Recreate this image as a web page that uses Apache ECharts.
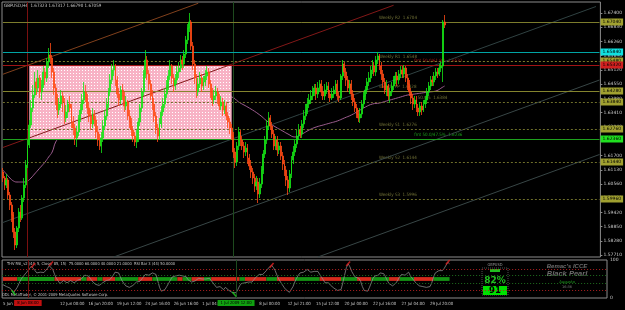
<!DOCTYPE html>
<html><head><meta charset="utf-8">
<script src="https://cdn.jsdelivr.net/npm/echarts@6/dist/echarts.min.js"></script>
<style>html,body{margin:0;padding:0;background:#000}#c{width:625px;height:310px}</style>
</head><body><div id="c"></div>
<script>
// ---------- DATA ----------
const opens = [1.6104,1.6080,1.6052,1.6072,1.6012,1.5972,1.5932,1.5864,1.5812,1.5880,
1.5944,1.5920,1.6000,1.6052,1.6132,1.6212,1.6292,1.6360,1.6412,1.6464,
1.6440,1.6480,1.6424,1.6452,1.6504,1.6480,1.6544,1.6572,1.6560,1.6504,
1.6440,1.6400,1.6352,1.6376,1.6408,1.6384,1.6320,1.6344,1.6376,1.6360,
1.6304,1.6280,1.6240,1.6264,1.6320,1.6352,1.6392,1.6424,1.6400,1.6360,
1.6328,1.6296,1.6336,1.6312,1.6264,1.6232,1.6208,1.6240,1.6288,1.6328,
1.6376,1.6424,1.6472,1.6512,1.6528,1.6472,1.6416,1.6392,1.6432,1.6408,
1.6368,1.6384,1.6328,1.6304,1.6272,1.6248,1.6224,1.6240,1.6304,1.6360,
1.6424,1.6496,1.6552,1.6496,1.6456,1.6408,1.6376,1.6328,1.6280,1.6248,
1.6296,1.6344,1.6376,1.6416,1.6448,1.6488,1.6528,1.6480,1.6448,1.6472,
1.6504,1.6520,1.6552,1.6536,1.6576,1.6632,1.6680,1.6704,1.6608,1.6536,
1.6480,1.6424,1.6456,1.6480,1.6448,1.6464,1.6488,1.6504,1.6456,1.6424,
1.6392,1.6408,1.6424,1.6400,1.6368,1.6384,1.6352,1.6368,1.6328,1.6304,
1.6280,1.6248,1.6184,1.6144,1.6208,1.6264,1.6232,1.6208,1.6184,1.6200,
1.6160,1.6128,1.6104,1.6080,1.6048,1.6064,1.6016,1.6056,1.6112,1.6176,
1.6232,1.6288,1.6320,1.6288,1.6256,1.6208,1.6232,1.6192,1.6208,1.6168,
1.6136,1.6112,1.6072,1.6040,1.6096,1.6152,1.6184,1.6216,1.6248,1.6272,
1.6256,1.6296,1.6328,1.6352,1.6376,1.6392,1.6408,1.6424,1.6440,1.6416,
1.6440,1.6456,1.6424,1.6408,1.6432,1.6448,1.6416,1.6400,1.6416,1.6432,
1.6456,1.6408,1.6400,1.6488,1.6536,1.6504,1.6472,1.6440,1.6456,1.6416,
1.6384,1.6360,1.6336,1.6320,1.6336,1.6376,1.6408,1.6432,1.6464,1.6480,
1.6512,1.6528,1.6504,1.6552,1.6568,1.6528,1.6496,1.6464,1.6432,1.6448,
1.6408,1.6424,1.6448,1.6472,1.6488,1.6472,1.6496,1.6512,1.6496,1.6520,
1.6480,1.6456,1.6424,1.6400,1.6376,1.6392,1.6360,1.6344,1.6368,1.6352,
1.6376,1.6392,1.6424,1.6448,1.6472,1.6464,1.6488,1.6504,1.6496,1.6520,
1.6528,1.6704];
const highs = [1.6120,1.6088,1.6096,1.6080,1.6024,1.5984,1.5944,1.5880,1.5888,1.5960,
1.5972,1.6012,1.6080,1.6152,1.6232,1.6312,1.6392,1.6452,1.6504,1.6480,
1.6512,1.6492,1.6472,1.6528,1.6520,1.6560,1.6600,1.6620,1.6572,1.6520,
1.6456,1.6416,1.6400,1.6432,1.6424,1.6400,1.6372,1.6392,1.6408,1.6376,
1.6328,1.6296,1.6288,1.6332,1.6376,1.6416,1.6464,1.6452,1.6416,1.6384,
1.6352,1.6360,1.6352,1.6328,1.6288,1.6256,1.6264,1.6312,1.6352,1.6400,
1.6440,1.6496,1.6536,1.6552,1.6536,1.6488,1.6440,1.6448,1.6456,1.6424,
1.6408,1.6392,1.6352,1.6320,1.6288,1.6264,1.6272,1.6320,1.6376,1.6440,
1.6512,1.6592,1.6568,1.6512,1.6472,1.6432,1.6400,1.6344,1.6296,1.6320,
1.6368,1.6400,1.6440,1.6472,1.6512,1.6552,1.6536,1.6496,1.6496,1.6528,
1.6544,1.6572,1.6568,1.6592,1.6648,1.6696,1.6740,1.6712,1.6624,1.6552,
1.6496,1.6480,1.6504,1.6496,1.6488,1.6512,1.6528,1.6520,1.6472,1.6440,
1.6432,1.6448,1.6440,1.6416,1.6408,1.6400,1.6392,1.6384,1.6344,1.6320,
1.6296,1.6264,1.6200,1.6224,1.6284,1.6272,1.6248,1.6224,1.6224,1.6216,
1.6176,1.6152,1.6120,1.6096,1.6088,1.6080,1.6080,1.6128,1.6192,1.6248,
1.6312,1.6344,1.6332,1.6304,1.6272,1.6248,1.6248,1.6224,1.6224,1.6184,
1.6152,1.6128,1.6088,1.6112,1.6168,1.6208,1.6232,1.6272,1.6296,1.6288,
1.6312,1.6352,1.6376,1.6400,1.6416,1.6432,1.6448,1.6456,1.6456,1.6464,
1.6472,1.6472,1.6448,1.6456,1.6464,1.6464,1.6432,1.6440,1.6448,1.6472,
1.6472,1.6424,1.6496,1.6552,1.6544,1.6520,1.6488,1.6472,1.6472,1.6432,
1.6400,1.6376,1.6352,1.6360,1.6392,1.6424,1.6448,1.6480,1.6504,1.6528,
1.6552,1.6544,1.6568,1.6584,1.6576,1.6544,1.6512,1.6480,1.6472,1.6456,
1.6440,1.6464,1.6488,1.6504,1.6504,1.6512,1.6528,1.6528,1.6532,1.6528,
1.6496,1.6472,1.6440,1.6416,1.6408,1.6408,1.6376,1.6384,1.6384,1.6392,
1.6408,1.6440,1.6464,1.6488,1.6488,1.6504,1.6520,1.6520,1.6536,1.6544,
1.6712,1.6732];
const lows = [1.6064,1.6032,1.6040,1.5996,1.5952,1.5904,1.5840,1.5792,1.5800,1.5864,
1.5904,1.5912,1.5984,1.6040,1.6120,1.6200,1.6280,1.6344,1.6400,1.6412,
1.6424,1.6400,1.6392,1.6440,1.6452,1.6464,1.6520,1.6536,1.6480,1.6412,
1.6372,1.6320,1.6332,1.6360,1.6344,1.6296,1.6304,1.6320,1.6344,1.6280,
1.6252,1.6212,1.6204,1.6248,1.6304,1.6336,1.6376,1.6384,1.6336,1.6304,
1.6272,1.6280,1.6288,1.6240,1.6208,1.6192,1.6180,1.6224,1.6272,1.6312,
1.6360,1.6408,1.6456,1.6488,1.6448,1.6400,1.6368,1.6376,1.6392,1.6344,
1.6352,1.6312,1.6280,1.6248,1.6224,1.6208,1.6200,1.6224,1.6288,1.6344,
1.6408,1.6480,1.6472,1.6432,1.6392,1.6352,1.6304,1.6256,1.6224,1.6232,
1.6280,1.6328,1.6360,1.6400,1.6432,1.6472,1.6456,1.6424,1.6432,1.6456,
1.6480,1.6504,1.6512,1.6520,1.6560,1.6616,1.6664,1.6592,1.6512,1.6456,
1.6400,1.6408,1.6440,1.6424,1.6432,1.6448,1.6472,1.6440,1.6400,1.6368,
1.6376,1.6392,1.6376,1.6352,1.6352,1.6328,1.6336,1.6312,1.6280,1.6256,
1.6232,1.6160,1.6120,1.6128,1.6192,1.6208,1.6192,1.6160,1.6168,1.6136,
1.6112,1.6080,1.6056,1.6024,1.6032,1.5980,1.6000,1.6040,1.6096,1.6160,
1.6216,1.6272,1.6272,1.6240,1.6192,1.6192,1.6168,1.6176,1.6152,1.6112,
1.6088,1.6048,1.6012,1.6024,1.6080,1.6136,1.6168,1.6200,1.6232,1.6240,
1.6240,1.6280,1.6312,1.6336,1.6360,1.6376,1.6392,1.6408,1.6392,1.6400,
1.6424,1.6408,1.6392,1.6392,1.6416,1.6400,1.6384,1.6392,1.6400,1.6416,
1.6392,1.6384,1.6392,1.6472,1.6480,1.6448,1.6424,1.6416,1.6392,1.6368,
1.6344,1.6320,1.6304,1.6300,1.6320,1.6360,1.6392,1.6416,1.6448,1.6464,
1.6496,1.6488,1.6488,1.6536,1.6512,1.6472,1.6440,1.6416,1.6408,1.6392,
1.6380,1.6408,1.6432,1.6456,1.6448,1.6456,1.6480,1.6480,1.6480,1.6464,
1.6432,1.6408,1.6376,1.6352,1.6360,1.6344,1.6328,1.6328,1.6332,1.6344,
1.6360,1.6376,1.6408,1.6432,1.6448,1.6448,1.6472,1.6480,1.6488,1.6504,
1.6464,1.6680];
const closes = [1.6080,1.6052,1.6072,1.6012,1.5972,1.5932,1.5864,1.5812,1.5880,1.5944,
1.5920,1.6000,1.6052,1.6132,1.6212,1.6292,1.6360,1.6412,1.6464,1.6440,
1.6480,1.6424,1.6452,1.6504,1.6480,1.6544,1.6572,1.6560,1.6504,1.6440,
1.6400,1.6352,1.6376,1.6408,1.6384,1.6320,1.6344,1.6376,1.6360,1.6304,
1.6280,1.6240,1.6264,1.6320,1.6352,1.6392,1.6424,1.6400,1.6360,1.6328,
1.6296,1.6336,1.6312,1.6264,1.6232,1.6208,1.6240,1.6288,1.6328,1.6376,
1.6424,1.6472,1.6512,1.6528,1.6472,1.6416,1.6392,1.6432,1.6408,1.6368,
1.6384,1.6328,1.6304,1.6272,1.6248,1.6224,1.6240,1.6304,1.6360,1.6424,
1.6496,1.6552,1.6496,1.6456,1.6408,1.6376,1.6328,1.6280,1.6248,1.6296,
1.6344,1.6376,1.6416,1.6448,1.6488,1.6528,1.6480,1.6448,1.6472,1.6504,
1.6520,1.6552,1.6536,1.6576,1.6632,1.6680,1.6704,1.6608,1.6536,1.6480,
1.6424,1.6456,1.6480,1.6448,1.6464,1.6488,1.6504,1.6456,1.6424,1.6392,
1.6408,1.6424,1.6400,1.6368,1.6384,1.6352,1.6368,1.6328,1.6304,1.6280,
1.6248,1.6184,1.6144,1.6208,1.6264,1.6232,1.6208,1.6184,1.6200,1.6160,
1.6128,1.6104,1.6080,1.6048,1.6064,1.6016,1.6056,1.6112,1.6176,1.6232,
1.6288,1.6320,1.6288,1.6256,1.6208,1.6232,1.6192,1.6208,1.6168,1.6136,
1.6112,1.6072,1.6040,1.6096,1.6152,1.6184,1.6216,1.6248,1.6272,1.6256,
1.6296,1.6328,1.6352,1.6376,1.6392,1.6408,1.6424,1.6440,1.6416,1.6440,
1.6456,1.6424,1.6408,1.6432,1.6448,1.6416,1.6400,1.6416,1.6432,1.6456,
1.6408,1.6400,1.6488,1.6536,1.6504,1.6472,1.6440,1.6456,1.6416,1.6384,
1.6360,1.6336,1.6320,1.6336,1.6376,1.6408,1.6432,1.6464,1.6480,1.6512,
1.6528,1.6504,1.6552,1.6568,1.6528,1.6496,1.6464,1.6432,1.6448,1.6408,
1.6424,1.6448,1.6472,1.6488,1.6472,1.6496,1.6512,1.6496,1.6520,1.6480,
1.6456,1.6424,1.6400,1.6376,1.6392,1.6360,1.6344,1.6368,1.6352,1.6376,
1.6392,1.6424,1.6448,1.6472,1.6464,1.6488,1.6504,1.6496,1.6520,1.6528,
1.6704,1.6692];
const maPoints = [[0,1.6112],[2,1.6096],[4,1.6080],[6,1.6068],[8,1.6064],[10,1.6064],[12,1.6064],[14,1.6068],[16,1.6080],[18,1.6096],[20,1.6112],[22,1.6128],[24,1.6144],[26,1.6164],[28,1.6184],[30,1.6224],[32,1.6240],[34,1.6252],[40,1.6264],[50,1.6292],[60,1.6320],[70,1.6336],[80,1.6352],[90,1.6368],[100,1.6392],[110,1.6408],[120,1.6412],[130,1.6404],[134,1.6384],[140,1.6360],[146,1.6332],[150,1.6308],[154,1.6288],[158,1.6272],[162,1.6256],[166,1.6244],[170,1.6256],[174,1.6272],[178,1.6284],[182,1.6292],[186,1.6300],[190,1.6308],[194,1.6320],[198,1.6332],[202,1.6348],[206,1.6364],[210,1.6376],[214,1.6380],[218,1.6388],[222,1.6396],[226,1.6404],[230,1.6412],[234,1.6416],[238,1.6420],[242,1.6424],[246,1.6428],[250,1.6444],[251,1.6448]];
const rsiValues = [35,32,30,28,26,20,14,18,28,38,48,55,60,66,72,78,84,86,72,66,
64,68,63,67,72,78,85,90,75,62,52,45,38,42,46,43,40,44,46,42,
40,44,47,44,50,55,60,62,58,52,45,40,36,34,33,36,40,44,46,45,
48,52,60,68,70,66,55,45,38,32,30,28,30,33,38,42,40,44,50,56,
62,66,60,62,66,68,62,45,28,18,16,22,30,38,46,55,60,58,62,60,
56,58,62,56,48,44,42,40,45,50,52,48,50,54,50,46,52,48,40,34,
28,24,30,26,22,28,24,20,18,14,10,14,22,32,38,35,40,36,42,38,
42,48,54,58,62,60,62,66,72,78,83,86,80,72,60,50,42,35,28,22,
18,15,20,30,42,52,60,66,70,68,72,75,72,68,72,70,66,70,62,55,
48,40,36,40,34,30,26,22,20,24,22,40,60,80,90,82,70,62,55,58,
52,44,30,20,15,18,28,40,52,58,62,60,66,70,64,56,46,38,34,32,
35,40,48,56,62,66,60,64,68,58,52,46,40,36,32,28,30,26,28,32,
30,40,55,66,70,72,68,72,78,82,94,90];
const rsiBands = [[0,8,'r'],[8,29,'g'],[29,44,'r'],[44,47,'g'],[47,53,'r'],[53,56,'g'],[56,63,'r'],[63,76,'g'],[76,84,'r'],[84,98,'g'],[98,101,'r'],[101,106,'g'],[106,113,'r'],[113,117,'g'],[117,133,'r'],[133,136,'g'],[136,148,'r'],[148,154,'g'],[154,164,'r'],[164,178,'g'],[178,190,'r'],[190,199,'g'],[199,207,'r'],[207,217,'g'],[217,223,'r'],[223,231,'g'],[231,242,'r'],[242,251,'g']];
const rsiUpMarks = [[17,86],[27,90],[151,86],[194,90],[250,94]];
const rsiDownMarks = [[6,14],[130,10]];
const priceTicks = [1.6740,1.6683,1.6626,1.6569,1.6512,1.6455,1.6398,1.6341,1.6284,1.6227,1.6170,1.6113,1.6056,1.5999,1.5942,1.5885,1.5828,1.5771];
const timeLabelIdx = [0,32,48,64,80,96,112,144,160,176,192,208,224,240];
const timeLabelText = ['5 Jun 2009','12 Jun 00:00','16 Jun 20:00','19 Jun 12:00','24 Jun 16:00','26 Jun 16:00','1 Jul 04:00','8 Jul 00:00','12 Jul 21:00','15 Jul 12:00','20 Jul 00:00','22 Jul 16:00','27 Jul 04:00','29 Jul 20:00'];
const levelPrices = [1.6704,1.6584,1.6548,1.6532,1.6428,1.6384,1.6276,1.6236,1.6144,1.5996];
const levelColors = ['#7c7c2c','#00a4a4','#7c7c2c','#a01414','#84842e','#6e6e2a','#6e6e2a','#1ea01e','#6e6e2a','#6e6e2a'];
const levelTypes = ['solid','solid','dashed','solid','solid','dashed','dashed','solid','dashed','dashed'];
const levelBoxColors = ['#a0a030','#10e0e0','#a0a030','#d02020','#a0a030','#a0a030','#a0a030','#20e020','#a0a030','#a0a030'];
const levelTexts = ['Weekly R2  1.6704','','Weekly R1  1.6548','fmt 50.0/61.8%  1.6532','Weekly PP  1.6428','50.0%  1.6384','Weekly S1  1.6276','fmt 50.0/47.5%  1.6236','Weekly S2  1.6144','Weekly S3  1.5996'];
const levelTextIdx = [214,0,214,234,214,236,214,234,214,214];
const levelTextColors = ['#8c8c44','','#8c8c44','#d02020','#8c8c44','#8c8c44','#8c8c44','#20c020','#8c8c44','#8c8c44'];
// channel lines: [startIdx, startPrice, endIdx, endPrice, color]
const channelLines = [[0,1.6495,111,1.6779,'#80401c'],[0,1.6202,222,1.6771,'#821818'],[0,1.5902,337,1.6766,'#304242'],[63,1.5764,339,1.6472,'#384646'],[179,1.5764,339,1.6174,'#384646']];
const vLines = [[14,'#7a1010','8 Jun 08:00','#c01010'],[131,'#1e4a1e','1 Jul 2009 12:00','#10a010']];
const boxRange = [[15,1.6532,130,1.6236]];

// ---------- CHART ----------
const N = 340;
const cats = Array.from({length:N},(_,i)=>String(i));
const tmap = new Map(timeLabelIdx.map((v,i)=>[v,timeLabelText[i]]));
const candles = opens.map((o,i)=>[o,closes[i],lows[i],highs[i]]);
const F = 'DejaVu Sans';
const FN = '"Liberation Sans Narrow","DejaVu Sans Condensed","Liberation Sans",sans-serif';
const dashOf = t => t === 'dashed' ? [2,2] : 'solid';
const levelMarks = levelPrices.map((p,i)=>[{coord:[0,p],lineStyle:{color:levelColors[i],type:dashOf(levelTypes[i]),width:1},
  label:{show:true,position:'end',distance:1,formatter:p.toFixed(5),backgroundColor:levelBoxColors[i],color:'#000',fontSize:4.5,fontFamily:F,padding:[1,2,1,2]}},{coord:[N-1,p]}]);
const levelTextData = levelPrices.map((p,i)=>levelTexts[i]?{value:[levelTextIdx[i],p],label:{show:true,formatter:levelTexts[i],color:levelTextColors[i],position:[0,-6],fontSize:4.5,fontFamily:FN}}:null).filter(Boolean);
const chMarks = channelLines.map(c=>[{coord:[c[0],c[1]],lineStyle:{color:c[4],width:1,type:'solid'}},{coord:[c[2],c[3]]}]);
const vMarksMain = vLines.map(v=>({xAxis:v[0],lineStyle:{color:v[1],width:1,type:'solid'},label:{show:false}}));
const vMarksRsi = vLines.map(v=>({xAxis:v[0],lineStyle:{color:v[1],width:1,type:'solid'},label:{show:true,position:'start',distance:2,formatter:v[2],backgroundColor:v[3],color:'#000',fontSize:4.2,fontFamily:FN,padding:[1,3,1,3]}}));
const bandAreas = rsiBands.map(b=>[{xAxis:b[0],yAxis:45,itemStyle:{color:b[2]==='r'?'#d42a1c':'#149414'}},{xAxis:b[1],yAxis:55}]);

// pink dotted fill pattern for the rectangle object
const pat = document.createElement('canvas'); pat.width = 3; pat.height = 3;
const pc = pat.getContext('2d'); pc.fillStyle = '#f8b2c5'; pc.fillRect(0,0,3,3);
pc.fillStyle = '#ffffff'; pc.fillRect(1,1,1,1);

const chart = echarts.init(document.getElementById('c'),null,{renderer:'canvas'});
chart.setOption({
  animation:false,
  backgroundColor:'#000',
  grid:[
    {left:2,right:18,top:2,bottom:53,show:true,borderColor:'#8c8c8c',borderWidth:1},
    {left:2,right:18,top:260,bottom:12,show:true,borderColor:'#8c8c8c',borderWidth:1}
  ],
  xAxis:[
    {type:'category',gridIndex:0,data:cats,boundaryGap:true,axisLine:{show:false},axisTick:{show:false},axisLabel:{show:false},splitLine:{show:false}},
    {type:'category',gridIndex:1,data:cats,boundaryGap:true,axisLine:{show:false},axisTick:{show:false},splitLine:{show:false},
     axisLabel:{show:true,interval:(i)=>tmap.has(i),formatter:(v,i)=>tmap.get(i)||'',color:'#c8c8c8',fontSize:4.3,fontFamily:FN,align:'left',margin:4}}
  ],
  yAxis:[
    {type:'value',gridIndex:0,position:'right',min:1.5764,max:1.6784,axisLine:{show:false},splitLine:{show:false},
     axisTick:{show:true,length:2,lineStyle:{color:'#8c8c8c'},customValues:priceTicks},
     axisLabel:{customValues:priceTicks,formatter:(v)=>v.toFixed(5),color:'#c8c8c8',fontSize:4.5,fontFamily:F,margin:3}},
    {type:'value',gridIndex:1,position:'right',min:0,max:100,axisLine:{show:false},splitLine:{show:false},axisTick:{show:false},
     axisLabel:{customValues:[0,100],color:'#c8c8c8',fontSize:4.5,fontFamily:F,margin:3}}
  ],
  series:[
    {type:'line',name:'MA',xAxisIndex:0,yAxisIndex:0,data:maPoints,smooth:true,symbol:'none',z:1,lineStyle:{color:'#9c5c8e',width:1}},
    {type:'custom',name:'box',xAxisIndex:0,yAxisIndex:0,data:boxRange,z:2,encode:{x:[0,2],y:[1,3]},
     renderItem:(params,api)=>{
       const a = api.coord([api.value(0),api.value(1)]);
       const b = api.coord([api.value(2),api.value(3)]);
       return {type:'rect',shape:{x:a[0],y:a[1],width:b[0]-a[0],height:b[1]-a[1]},style:{fill:{image:pat,repeat:'repeat'}}};
     }},
    {type:'line',name:'objects',xAxisIndex:0,yAxisIndex:0,data:[],z:3,
     markLine:{silent:true,symbol:['none','none'],label:{show:false},data:[...chMarks,...vMarksMain,...levelMarks]}},
    {type:'scatter',name:'levelText',xAxisIndex:0,yAxisIndex:0,symbolSize:1,itemStyle:{color:'transparent'},z:4,data:levelTextData},
    {type:'candlestick',name:'GBPUSD',xAxisIndex:0,yAxisIndex:0,data:candles,z:5,barWidth:1.4,
     itemStyle:{color:'#14e414',color0:'#ff4a14',borderColor:'#14e414',borderColor0:'#ff4a14',borderWidth:0.8}},
    {type:'line',name:'RSI',xAxisIndex:1,yAxisIndex:1,data:rsiValues,symbol:'none',z:3,lineStyle:{color:'#9a9a9a',width:0.7},
     markLine:{silent:true,symbol:['none','none'],label:{show:false},data:[
       {yAxis:75,lineStyle:{color:'#b02020',type:[1,2],width:1}},
       {yAxis:60,lineStyle:{color:'#1e6e1e',type:[1,2],width:1}},
       {yAxis:40,lineStyle:{color:'#1e6e1e',type:[1,2],width:1}},
       {yAxis:21,lineStyle:{color:'#b02020',type:[1,2],width:1}},
       ...vMarksRsi]},
     markArea:{silent:true,data:bandAreas}},
    {type:'scatter',name:'up',xAxisIndex:1,yAxisIndex:1,data:rsiUpMarks,symbol:'rect',symbolSize:[1.6,6],symbolRotate:-40,itemStyle:{color:'#e02020'},z:6},
    {type:'scatter',name:'down',xAxisIndex:1,yAxisIndex:1,data:rsiDownMarks,symbol:'rect',symbolSize:[1.6,6],symbolRotate:40,itemStyle:{color:'#20d020'},z:6}
  ],
  graphic:[
    {type:'text',left:4,top:3,style:{text:'GBPUSD,H4  1.67323 1.67317 1.66790 1.67059',fill:'#c8c8c8',fontSize:4.5,fontFamily:FN}},
    {type:'text',left:7,top:262,style:{text:'THV RSI_v2 (44, 5, Close, 85, 15)  75.0000 60.0000 40.0000 21.0000  RSI Bar 3 (44) 50.0000',fill:'#c8c8c8',fontSize:4,fontFamily:FN}},
    {type:'text',left:2,top:293,style:{text:'ODL MetaTrader, \u00a9 2001-2009 MetaQuotes Software Corp.',fill:'#c8c8c8',fontSize:4,fontFamily:FN}},
    {type:'text',x:495,y:263,style:{text:'GBPUSD',fill:'#909090',fontSize:4,fontFamily:FN,align:'center'}},
    {type:'rect',shape:{x:482,y:268,width:26,height:27},style:{fill:'none',stroke:'#505050',lineWidth:1,lineDash:[1,1]}},
    {type:'rect',shape:{x:490,y:269,width:10,height:3},style:{fill:'#20c020'}},
    {type:'text',x:495,y:276,style:{text:'82%',fill:'#20c020',fontSize:9,fontWeight:'bold',fontFamily:F,align:'center'}},
    {type:'rect',shape:{x:483,y:286,width:24,height:9},style:{fill:'#00e000'}},
    {type:'text',x:495,y:286,style:{text:'91',fill:'#000',fontSize:8.5,fontWeight:'bold',fontFamily:F,align:'center'}},
    {type:'text',x:567,y:263,style:{text:"Bemac's ICCE",fill:'#6c6c6c',fontSize:6,fontWeight:'bold',fontStyle:'italic',fontFamily:'Liberation Sans',align:'center'}},
    {type:'text',x:567,y:270,style:{text:'Black Pearl',fill:'#6c6c6c',fontSize:7.5,fontWeight:'bold',fontStyle:'italic',fontFamily:'Liberation Sans',align:'center'}},
    {type:'text',x:567,y:280,style:{text:'Augusta',fill:'#20a020',fontSize:3.8,fontFamily:F,align:'center'}},
    {type:'text',x:567,y:285,style:{text:'16:36',fill:'#808080',fontSize:3.5,fontFamily:F,align:'center'}}
  ]
});
</script></body></html>
